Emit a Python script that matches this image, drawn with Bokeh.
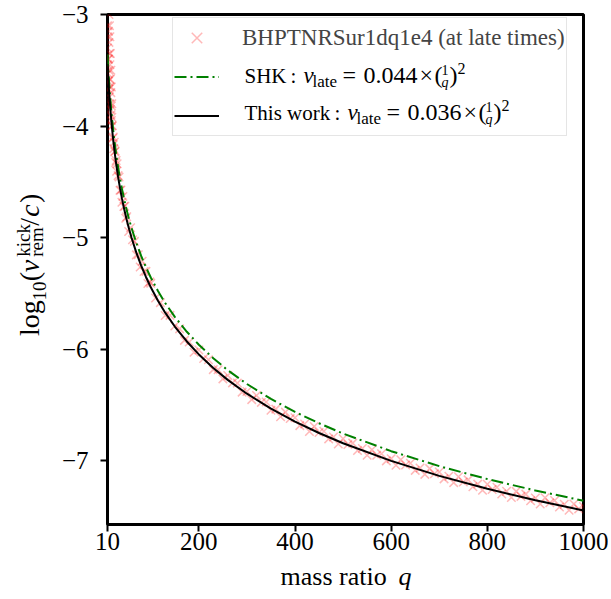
import math
from bokeh.plotting import figure
from bokeh.layouts import row, column
from bokeh.models import Range1d, Label, Legend, LegendItem, FixedTicker
from bokeh.embed import file_html
from bokeh.resources import INLINE

# ---------------- data ----------------
q_model = [10, 11, 12, 13, 14, 15, 16, 18, 20, 22,
           25, 28, 32, 36, 40, 45, 50, 55, 60, 70,
           80, 90, 100, 115, 130, 150, 175, 200, 230, 260,
           300, 350, 400, 450, 500, 600, 700, 800, 900, 1000]
logv_this = [-3.444, -3.527, -3.602, -3.672, -3.736, -3.796, -3.852, -3.954, -4.046, -4.128,
             -4.240, -4.338, -4.454, -4.556, -4.648, -4.750, -4.842, -4.924, -5.000, -5.134,
             -5.250, -5.352, -5.444, -5.565, -5.672, -5.796, -5.930, -6.046, -6.167, -6.274,
             -6.398, -6.532, -6.648, -6.750, -6.842, -7.000, -7.134, -7.250, -7.352, -7.444]
logv_shk = [-3.357, -3.440, -3.515, -3.585, -3.649, -3.709, -3.765, -3.867, -3.959, -4.041,
            -4.153, -4.251, -4.367, -4.469, -4.561, -4.663, -4.755, -4.837, -4.913, -5.047,
            -5.163, -5.265, -5.357, -5.478, -5.585, -5.709, -5.843, -5.959, -6.080, -6.187,
            -6.311, -6.445, -6.561, -6.663, -6.755, -6.913, -7.047, -7.163, -7.265, -7.357]

q_sur = [10, 10, 10, 10, 11, 11, 11, 11, 12, 12, 12, 12, 13, 13, 13, 13,
         14, 14, 14, 14, 15, 15, 15, 15, 16, 16, 16, 17, 17, 17, 18, 18, 18, 19, 19, 19,
         20, 21, 22, 23, 24, 25, 26, 27, 28, 29, 30,
         32, 34, 36, 38, 40, 42, 44, 46, 48, 50,
         54, 58, 62, 66, 70, 74, 78, 82, 86, 90, 94, 98,
         100, 110, 120, 130, 140, 150, 160, 170, 180, 190,
         200, 210, 220, 230, 240, 250, 260, 270, 280, 290,
         300, 310, 320, 330, 340, 350, 360, 370, 380, 390,
         400, 410, 420, 430, 440, 450, 460, 470, 480, 490,
         500, 510, 520, 530, 540, 550, 560, 570, 580, 590,
         600, 610, 620, 630, 640, 650, 660, 670, 680, 690,
         700, 710, 720, 730, 740, 750, 760, 770, 780, 790,
         800, 810, 820, 830, 840, 850, 860, 870, 880, 890,
         900, 910, 920, 930, 940, 950, 960, 970, 980, 990,
         1000]
logv_sur = [-2.90, -3.10, -3.30, -3.45, -2.95, -3.20, -3.40, -3.53, -2.95, -3.15, -3.40, -3.60,
            -3.00, -3.25, -3.50, -3.67, -3.10, -3.35, -3.58, -3.74, -3.20, -3.45, -3.65, -3.80,
            -3.35, -3.58, -3.85, -3.50, -3.70, -3.90, -3.65, -3.82, -3.95, -3.80, -3.92, -4.00,
            -3.996, -4.108, -4.099, -4.202, -4.144, -4.230, -4.224, -4.326, -4.308, -4.404, -4.338,
            -4.444, -4.457, -4.576, -4.573, -4.683, -4.630, -4.721, -4.719, -4.826, -4.812,
            -4.944, -4.911, -5.019, -5.033, -5.154, -5.152, -5.263, -5.211, -5.303, -5.302, -5.410, -5.396,
            -5.409, -5.541, -5.582, -5.697, -5.696, -5.791, -5.817, -5.920, -5.934, -6.026,
            -6.006, -6.083, -6.094, -6.182, -6.184, -6.265, -6.234, -6.301, -6.303, -6.384,
            -6.378, -6.451, -6.414, -6.476, -6.472, -6.547, -6.536, -6.605, -6.563, -6.621,
            -6.613, -6.684, -6.670, -6.736, -6.691, -6.745, -6.734, -6.803, -6.786, -6.849,
            -6.802, -6.854, -6.841, -6.907, -6.889, -6.949, -6.900, -6.950, -6.936, -7.000,
            -6.980, -7.039, -6.989, -7.037, -7.021, -7.085, -7.063, -7.121, -7.069, -7.116,
            -7.099, -7.161, -7.138, -7.195, -7.142, -7.189, -7.170, -7.232, -7.208, -7.264,
            -7.210, -7.256, -7.236, -7.297, -7.272, -7.328, -7.273, -7.318, -7.298, -7.358,
            -7.332, -7.387, -7.331, -7.376, -7.355, -7.414, -7.388, -7.442, -7.386, -7.430,
            -7.409]

x_ticks = [10, 200, 400, 600, 800, 1000]
x_tick_labels = ["10", "200", "400", "600", "800", "1000"]
y_ticks = [-7, -6, -5, -4, -3]
y_tick_labels = ["\u22127", "\u22126", "\u22125", "\u22124", "\u22123"]

# ---------------- layout ----------------
FONT = "Liberation Serif"
YLW = 52                     # width of the y-label strip
MW, MH = 556, 560            # main figure
BL, BR, BT, BB = 55, 25, 14, 36
XLH = 36                     # height of the x-label strip
FL = YLW + BL                # frame left on picture (107)
FB = MH - BB                 # frame bottom on picture (524)
TOT_H = MH + XLH
MID = 0.3375                 # em-box centre above the baseline, in em

p = figure(width=MW, height=MH, output_backend="svg", toolbar_location=None,
           x_range=Range1d(10, 1000), y_range=Range1d(-7.57, -3),
           min_border_left=BL, min_border_right=BR, min_border_top=BT, min_border_bottom=BB)
p.xgrid.visible = False
p.ygrid.visible = False
p.outline_line_color = "black"
p.outline_line_width = 3
p.outline_line_alpha = 1.0
p.background_fill_color = "white"
p.border_fill_color = "white"

p.xaxis.ticker = FixedTicker(ticks=x_ticks)
p.xaxis.major_label_overrides = {t: s for t, s in zip(x_ticks, x_tick_labels)}
p.yaxis.ticker = FixedTicker(ticks=y_ticks)
p.yaxis.major_label_overrides = {t: s for t, s in zip(y_ticks, y_tick_labels)}
for ax in (p.xaxis, p.yaxis):
    ax.axis_line_color = None
    ax.major_tick_out = 7
    ax.major_tick_in = 0
    ax.major_tick_line_width = 2
    ax.major_tick_line_color = "black"
    ax.minor_tick_line_color = None
    ax.major_label_text_font = FONT
    ax.major_label_text_font_size = "25px"
    ax.major_label_text_color = "black"
p.xaxis.major_label_standoff = 1
p.yaxis.major_label_standoff = 12

r_sur = p.scatter(q_sur, logv_sur, marker="x", size=12, line_color="red",
                  line_alpha=0.28, line_width=1.5)
r_shk = p.line(q_model, logv_shk, line_color="green", line_width=2, line_dash="12 4 2 4")
r_this = p.line(q_model, logv_this, line_color="black", line_width=2)

legend = Legend(items=[LegendItem(label="BHPTNRSur1dq1e4 (at late times)", renderers=[r_sur]),
                       LegendItem(label=" ", renderers=[r_shk]),
                       LegendItem(label=" ", renderers=[r_this])],
                location=(172 - FL, FB - 136), padding=1, spacing=2, margin=0,
                glyph_height=37, glyph_width=45, label_standoff=23, label_height=37,
                label_text_font=FONT, label_text_font_size="23px",
                border_line_color="#cccccc", border_line_width=1.5,
                background_fill_alpha=0.0)
p.add_layout(legend)


def lab_main(text, px, base, size, italic=False):
    """text in the main plot frame; px/base are picture pixels (left, baseline)."""
    p.add_layout(Label(x=px - FL, y=FB - (base - MID * size), x_units="screen", y_units="screen",
                       text=text, text_font=FONT, text_font_size=f"{size}px",
                       text_font_style="italic" if italic else "normal",
                       text_baseline="middle", text_align="left", text_color="black"))


# legend math texts
for dx, by, name, colon, coef in [(0, 83, "SHK", 290, "0.044"), (44, 120, "This work", 334, "0.036")]:
    lab_main(name, 244, by, 21)
    lab_main(":", colon, by, 21)
    lab_main("v", 303 + dx, by, 23, italic=True)
    lab_main("late", 312 + dx, by + 4, 17)
    lab_main("=", 342 + dx, by, 24)
    lab_main(coef, 363 + dx, by, 24)
    lab_main("\u00d7", 419 + dx, by, 24)
    lab_main("(", 434 + dx, by, 24)
    lab_main("1", 441 + dx, by - 9, 14)
    lab_main("q", 441 + dx, by + 4, 14, italic=True)
    lab_main(")", 449 + dx, by, 24)
    lab_main("2", 457 + dx, by - 10, 16)


def strip(w, h):
    f = figure(width=w, height=h, output_backend="svg", toolbar_location=None,
               x_range=Range1d(0, w), y_range=Range1d(0, h), min_border=0,
               x_axis_location=None, y_axis_location=None)
    f.grid.visible = False
    f.outline_line_color = None
    f.background_fill_color = "white"
    f.border_fill_color = "white"
    return f


# y axis label (rotated), in its own strip left of the plot
ylab = strip(YLW, MH)
A = math.pi / 2


def lab_y(text, base_x, py_start, size, italic=False):
    ylab.add_layout(Label(x=base_x - MID * size, y=MH - py_start, text=text, text_font=FONT,
                          text_font_size=f"{size}px", angle=A,
                          text_font_style="italic" if italic else "normal",
                          text_baseline="middle", text_align="left", text_color="black"))


lab_y("log", 38, 353, 28)
lab_y("10", 45, 314, 19)
lab_y("(", 38, 293, 28)
lab_y("v", 38, 283, 28, italic=True)
lab_y("kick", 29, 266, 19)
lab_y("rem", 42, 266, 19)
lab_y("/", 38, 232, 28)
lab_y("c", 38, 222, 28, italic=True)
lab_y(")", 38, 207, 28)

# x axis label, in its own strip below the plot
xlab = strip(YLW + MW, XLH)


def lab_x(text, px, ymid, size, italic=False):
    xlab.add_layout(Label(x=px, y=TOT_H - ymid, text=text, text_font=FONT,
                          text_font_size=f"{size}px",
                          text_font_style="italic" if italic else "normal",
                          text_baseline="middle", text_align="left", text_color="black"))


lab_x("mass ratio", 280, 576, 26)
lab_x("q", 398, 576, 26, italic=True)

layout = column(row(ylab, p), xlab)
open("out.html", "w").write(file_html(layout, INLINE))
